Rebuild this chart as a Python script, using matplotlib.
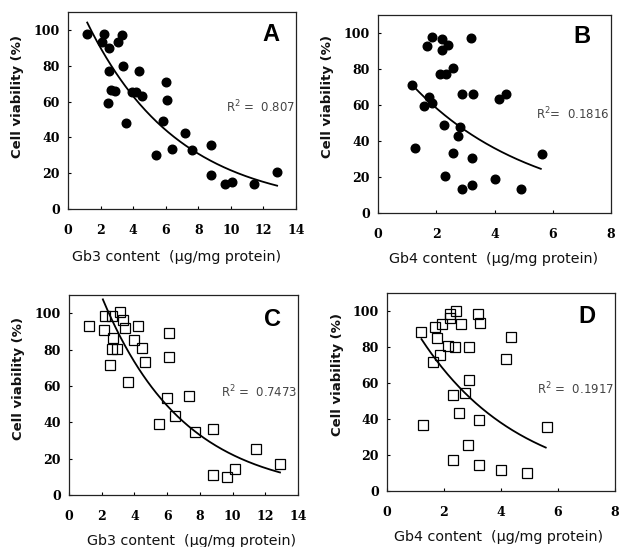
import numpy as np
import matplotlib
matplotlib.use("Agg")
import matplotlib.pyplot as plt

# ---------------- data ----------------
A_x = [1.18, 2.18, 2.06, 2.53, 3.29, 3.08, 2.51, 3.39, 4.37, 2.63, 2.90, 2.47, 3.95, 4.20,
       4.57, 3.55, 6.00, 6.08, 5.84, 5.43, 6.37, 7.20, 7.63, 8.76, 8.76, 9.65, 10.06, 11.40, 12.84]
A_y = [97.8, 97.5, 93.0, 90.0, 97.0, 93.0, 77.0, 80.0, 77.0, 66.7, 65.7, 59.0, 65.5, 65.5,
       63.0, 47.8, 71.0, 61.0, 49.0, 30.4, 33.3, 42.6, 33.0, 35.7, 19.0, 13.7, 15.2, 13.9, 20.4]

B_x = [1.18, 1.28, 1.69, 1.86, 1.75, 1.59, 1.87, 2.19, 2.19, 2.39, 2.14, 2.35, 2.59, 2.27,
       2.31, 2.56, 2.74, 2.83, 2.87, 2.87, 3.18, 3.27, 3.23, 3.23, 4.03, 4.15, 4.40, 4.90, 5.62]
B_y = [71.0, 35.9, 92.9, 97.6, 64.7, 59.5, 61.3, 96.7, 90.5, 93.3, 77.0, 77.0, 80.3, 49.0,
       20.4, 33.5, 42.6, 47.8, 66.0, 13.4, 97.4, 66.0, 30.3, 15.4, 19.1, 63.2, 66.2, 13.4, 32.9]

C_x = [1.20, 2.13, 2.20, 2.60, 3.13, 3.33, 3.41, 2.70, 2.60, 2.95, 2.50, 3.62, 3.96, 4.20,
       4.47, 4.63, 6.12, 6.12, 6.00, 6.48, 5.49, 7.36, 7.68, 8.82, 8.82, 9.63, 10.14, 11.46, 12.90]
C_y = [93.0, 91.0, 98.5, 98.5, 100.4, 96.5, 92.0, 86.3, 80.3, 80.3, 71.4, 62.0, 85.3, 93.1,
       81.0, 73.3, 88.9, 76.0, 53.6, 43.6, 38.8, 54.4, 34.9, 36.4, 11.1, 9.8, 14.3, 25.4, 17.1]

D_x = [1.21, 1.26, 1.62, 1.69, 1.76, 1.86, 1.94, 2.20, 2.21, 2.42, 2.14, 2.37, 2.58, 2.30,
       2.54, 2.33, 2.75, 2.87, 2.88, 2.85, 3.23, 3.23, 3.19, 3.28, 4.00, 4.19, 4.34, 4.91, 5.61]
D_y = [88.3, 36.7, 71.7, 91.1, 85.2, 75.4, 92.6, 98.1, 96.3, 100.0, 80.6, 80.0, 92.6, 53.5,
       43.5, 17.0, 54.3, 61.7, 80.0, 25.5, 39.3, 14.4, 98.1, 93.5, 11.5, 73.1, 85.7, 10.2, 35.4]

# exponential trendlines y = a*exp(b*x), drawn between x_start and x_end
trend_A = (128.5, -0.1783, 1.18, 12.84)
trend_B = (94.4, -0.241, 1.18, 5.59)
trend_C = (162.6, -0.1995, 2.07, 12.90)
trend_D = (119.4, -0.287, 1.21, 5.57)

r2_labels = ["R$^2$ =  0.807", "R$^2$=  0.1816", "R$^2$ =  0.7473", "R$^2$ =  0.1917"]
panel_letters = ["A", "B", "C", "D"]
x_labels = ["Gb3 content  (\u03bcg/mg protein)", "Gb4 content  (\u03bcg/mg protein)",
            "Gb3 content  (\u03bcg/mg protein)", "Gb4 content  (\u03bcg/mg protein)"]
y_label = "Cell viability (%)"
xmax = [14, 8, 14, 8]
yticks = [0, 20, 40, 60, 80, 100]

# ---------------- layout ----------------
W, H = 619, 547
fig = plt.figure(figsize=(W / 100, H / 100), dpi=100)

def box(l, r, t, b):
    return [l / W, (H - b) / H, (r - l) / W, (b - t) / H]

rects = [box(68, 296, 12, 209), box(378, 611, 15, 213),
         box(69, 298, 295, 495), box(387, 615, 293, 491)]
xlab_pos = [(177, 257), (494, 259), (192, 541), (499, 537)]
ylab_pos = [(18, 96), (327, 96), (19, 379), (337, 374)]
r2_pos = [0.52, 0.50, 0.515, 0.515]
letter_pos = [(0.89, 0.885), (0.875, 0.89), (0.89, 0.875), (0.877, 0.88)]

datasets = [(A_x, A_y, trend_A, "filled"), (B_x, B_y, trend_B, "filled"),
            (C_x, C_y, trend_C, "open"), (D_x, D_y, trend_D, "open")]

for i, (xs, ys, tr, kind) in enumerate(datasets):
    ax = fig.add_axes(rects[i])
    if kind == "filled":
        ax.plot(xs, ys, "o", ms=6.2, color="black", mec="black", zorder=3)
    else:
        ax.plot(xs, ys, "s", ms=6.5, mfc="none", mec="black", mew=0.9, zorder=3)
    a, b, x0, x1 = tr
    xx = np.linspace(x0, x1, 200)
    ax.plot(xx, a * np.exp(b * xx), color="black", lw=1.3, zorder=2)

    ax.set_xlim(0, xmax[i])
    ax.set_ylim(0, 110)
    ax.set_xticks(np.arange(0, xmax[i] + 1, 2))
    ax.set_yticks(yticks)
    for s in ax.spines.values():
        s.set_linewidth(0.9)
        s.set_color("#222222")
    ax.tick_params(direction="in", length=2.5, width=0.8)
    ax.tick_params(axis="x", pad=11)
    ax.tick_params(axis="y", pad=6)
    for lab in ax.get_xticklabels() + ax.get_yticklabels():
        lab.set_fontfamily("DejaVu Serif")
        lab.set_fontweight("bold")
        lab.set_fontsize(9)

    ax.text(0.995, r2_pos[i], r2_labels[i], transform=ax.transAxes,
            ha="right", va="center", fontsize=8.5, color="#444444")
    lx, ly = letter_pos[i]
    ax.text(lx, ly, panel_letters[i], transform=ax.transAxes,
            ha="center", va="center", fontsize=17, fontweight="bold",
            family="Liberation Sans")

    xl = xlab_pos[i]
    fig.text(xl[0] / W, 1 - xl[1] / H, x_labels[i], ha="center", va="center",
             fontsize=10.3, color="#111111")
    yl = ylab_pos[i]
    fig.text(yl[0] / W, 1 - yl[1] / H, y_label, ha="center", va="center",
             rotation=90, fontsize=9.5, fontweight="bold", color="#111111")

fig.savefig("out.png", dpi=100)
